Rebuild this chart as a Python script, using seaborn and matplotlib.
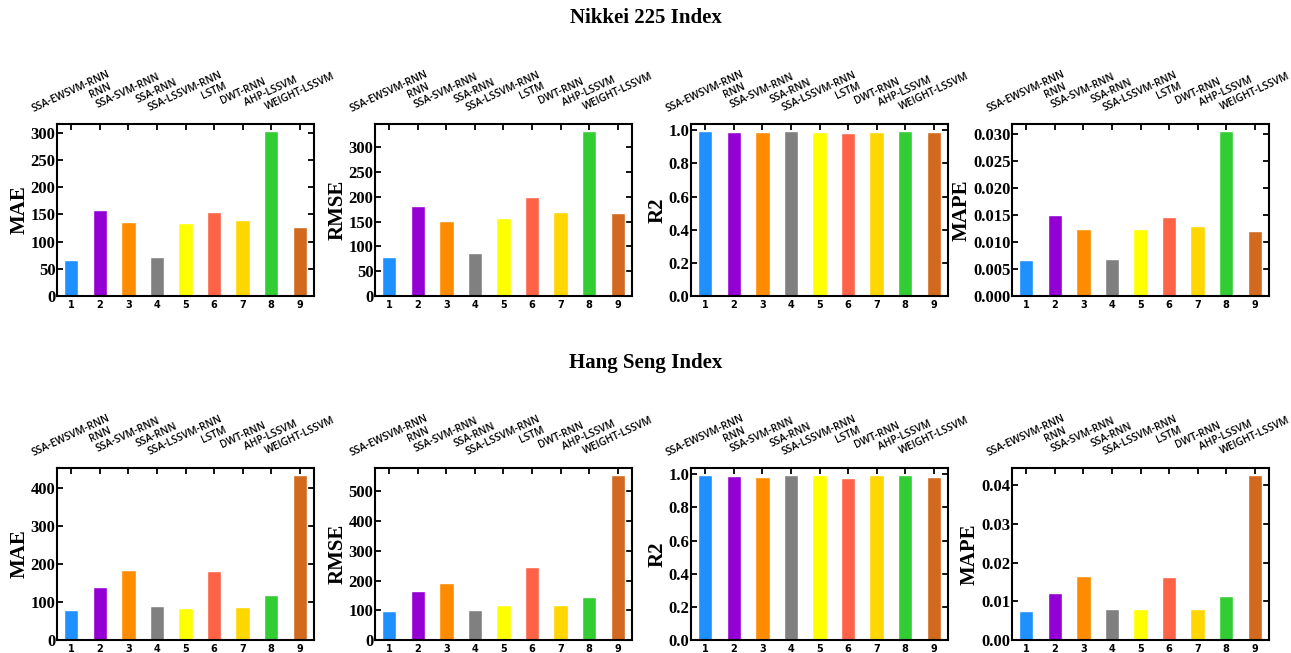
import numpy as np
import pandas as pd
import matplotlib
matplotlib.use("Agg")
import matplotlib.pyplot as plt
import matplotlib.transforms as mtransforms
from matplotlib.ticker import MultipleLocator
import seaborn as sns

models = ["SSA-EWSVM-RNN", "RNN", "SSA-SVM-RNN", "SSA-RNN", "SSA-LSSVM-RNN",
          "LSTM", "DWT-RNN", "AHP-LSSVM", "WEIGHT-LSSVM"]
model_ids = ["1", "2", "3", "4", "5", "6", "7", "8", "9"]
bar_colors = ["#1E90FF", "#9400D3", "#FF8C00", "#808080", "#FFFF00",
              "#FF6347", "#FFD700", "#32CD32", "#D2691E"]
metrics = ["MAE", "RMSE", "R2", "MAPE"]

# Nikkei 225
nikkei_mae = [66.5, 158, 136, 71, 135, 155, 139, 304, 127]
nikkei_rmse = [79, 181, 152, 86, 158, 200, 170, 334, 168]
nikkei_r2 = [0.998, 0.988, 0.988, 0.998, 0.988, 0.982, 0.988, 0.994, 0.988]
nikkei_mape = [0.0066, 0.0149, 0.0124, 0.0068, 0.0124, 0.0146, 0.0129, 0.0306, 0.0120]
nikkei_steps = [50, 50, 0.2, 0.005]

# Hang Seng
hsi_mae = [78, 140, 183, 90, 85, 182, 87, 117, 434]
hsi_rmse = [97, 166, 193, 102, 117, 244, 117, 145, 556]
hsi_r2 = [0.998, 0.992, 0.986, 0.998, 0.996, 0.976, 0.996, 0.996, 0.982]
hsi_mape = [0.0074, 0.0121, 0.0166, 0.0079, 0.0079, 0.0162, 0.0079, 0.0114, 0.0427]
hsi_steps = [100, 100, 0.2, 0.01]

rows = [
    ("Nikkei 225 Index", [nikkei_mae, nikkei_rmse, nikkei_r2, nikkei_mape], nikkei_steps),
    ("Hang Seng Index", [hsi_mae, hsi_rmse, hsi_r2, hsi_mape], hsi_steps),
]

sns.set_style("ticks")
plt.rcParams["font.family"] = ["DejaVu Sans"]
plt.rcParams["text.color"] = "black"
plt.rcParams["axes.labelcolor"] = "black"
plt.rcParams["xtick.color"] = "black"
plt.rcParams["ytick.color"] = "black"

fig = plt.figure(figsize=(12.91, 6.53), dpi=100)
W, H = 1291, 653
lefts = [57, 375, 691, 1012]
ax_w = 257
ax_h = 172
row_bottoms = [296, 640]
title_y = [18, 363]

palette = dict(zip(model_ids, bar_colors))

for r, (title, series, steps) in enumerate(rows):
    fig.text(0.5, 1 - title_y[r] / H, title, ha="center", va="center",
             fontsize=15, fontweight="bold", family="Liberation Serif")
    for c, (metric, vals) in enumerate(zip(metrics, series)):
        ax = fig.add_axes([lefts[c] / W, 1 - row_bottoms[r] / H, ax_w / W, ax_h / H])
        df = pd.DataFrame({"model": model_ids, "value": vals})
        sns.barplot(data=df, x="model", y="value", hue="model", palette=palette,
                    width=0.5, legend=False, ax=ax, saturation=1)
        ax.set_ylim(0, max(vals) * 1.04)
        ax.yaxis.set_major_locator(MultipleLocator(steps[c]))
        ax.set_xlabel("")
        ax.set_ylabel(metric, fontsize=15, fontweight="bold", family="Liberation Serif",
                      labelpad=1)
        for s in ax.spines.values():
            s.set_linewidth(1.5)
            s.set_color("black")
        ax.tick_params(axis="both", which="major", direction="in", top=True, right=True,
                       length=4, width=1.3)
        ax.tick_params(axis="x", labelsize=7, pad=3)
        ax.tick_params(axis="y", labelsize=12, pad=1)
        for lab in ax.get_xticklabels():
            lab.set_fontweight("bold")
            lab.set_family("DejaVu Sans")
        for lab in ax.get_yticklabels():
            lab.set_fontweight("bold")
            lab.set_family("Liberation Serif")
        trans = mtransforms.blended_transform_factory(ax.transData, ax.transAxes)
        for i, name in enumerate(models):
            ax.text(i, 1.19, name, transform=trans, rotation=25, ha="center",
                    va="center", rotation_mode="anchor", fontsize=7.4,
                    family="Open Sans", fontweight="semibold")

fig.savefig("out.png", dpi=100)
